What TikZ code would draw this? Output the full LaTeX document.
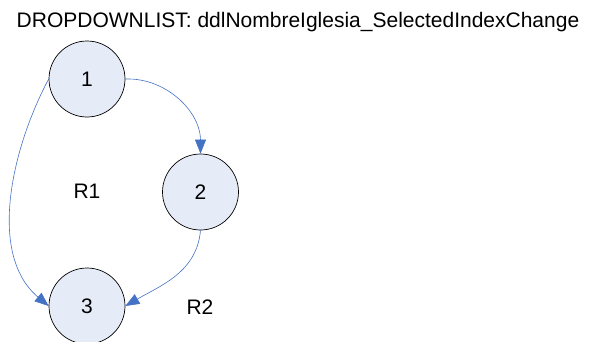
\documentclass[tikz,border=0pt]{standalone}
\usepackage{fontspec}
\setmainfont{Liberation Sans}
\usetikzlibrary{arrows.meta, positioning}
\definecolor{nodefill}{HTML}{E6ECF7}
\definecolor{edgeblue}{HTML}{4472C4}

\begin{document}
\begin{tikzpicture}[
    x=1pt, y=1pt,
    flownode/.style={circle, draw=black, line width=0.7pt, fill=nodefill, minimum size=76pt, inner sep=0pt, font=\fontsize{21}{25}\selectfont},
    regionlabel/.style={font=\fontsize{21}{25}\selectfont},
    arr/.style={-{Triangle[length=14pt, width=11pt]}, line width=0.6pt, color=edgeblue},
]
\clip (0,0) rectangle (592,341);
\useasboundingbox (0,0) rectangle (592,341);

% ─── Title ───
\node[font=\fontsize{21}{25}\selectfont] (title) at (298,319) {DROPDOWNLIST: ddlNombreIglesia\_SelectedIndexChange};

% ─── Nodes ───
\node[flownode] (n1) at (87,262) {1};
\node[flownode] (n2) at (200.5,149) {2};
\node[flownode] (n3) at (87,35) {3};

% ─── Regions ───
\node[regionlabel] (r1) at (87,150) {R1};
\node[regionlabel] (r2) at (200,34) {R2};

% ─── Arrows ───
\draw[arr] (n1.east) to[out=2, in=90] (n2.north);
\draw[arr] (n2.south) to[out=-95, in=30] (n3.east);
\draw[arr] (n1.west) to[out=-118, in=140, looseness=0.9] (n3.west);

\end{tikzpicture}
\end{document}
